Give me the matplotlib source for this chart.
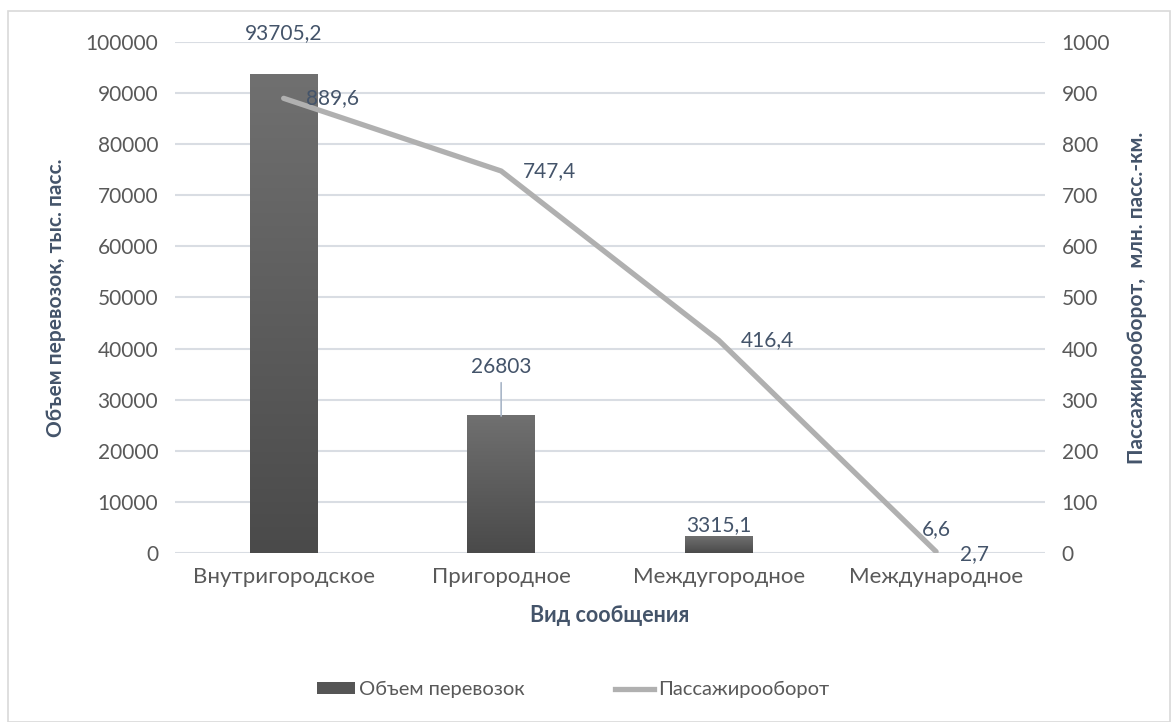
import numpy as np
import matplotlib.pyplot as plt
from matplotlib import rcParams
from matplotlib.colors import LinearSegmentedColormap
from matplotlib.lines import Line2D
from matplotlib.patches import Patch, Rectangle

# chart data
categories = ['Внутригородское', 'Пригородное', 'Междугородное', 'Международное']
volume = [93705.2, 26803, 3315.1, 6.6]        # тыс. пасс.
turnover = [889.6, 747.4, 416.4, 2.7]         # млн. пасс.-км.
volume_labels = ['93705,2', '26803', '3315,1', '6,6']
turnover_labels = ['889,6', '747,4', '416,4', '2,7']

rcParams['font.family'] = ['Lato', 'DejaVu Sans']
rcParams['font.size'] = 15

text_col = '#595959'
label_col = '#44546A'
grid_col = '#d9dde3'

fig = plt.figure(figsize=(11.74, 7.22), dpi=100)
ax = fig.add_axes([0.149, 0.234, 0.741, 0.708])
ax2 = ax.twinx()

x = np.arange(len(categories))
bars = ax.bar(x, volume, width=0.31, color='#5a5a5a', zorder=2)

# vertical gradient inside each bar (skip bars too thin to see)
grad = np.linspace(0, 1, 256).reshape(-1, 1)
cmap = LinearSegmentedColormap.from_list('g', ['#4a4a4a', '#707070'])
for b in bars:
    x0, w, h = b.get_x(), b.get_width(), b.get_height()
    b.set_alpha(0)
    if h < 500:
        continue
    ax.imshow(grad, extent=[x0, x0 + w, 0, h], aspect='auto', origin='lower',
              cmap=cmap, zorder=2.1)

ax.set_xlim(-0.5, 3.5)
ax.set_ylim(0, 100000)
ax.set_yticks(np.arange(0, 100001, 10000))
ax.grid(axis='y', color=grid_col, lw=1.5, zorder=0)
ax.set_axisbelow(True)
ax.set_xticks(x)
ax.set_xticklabels(categories, fontsize=16)
for s in ax.spines.values():
    s.set_visible(False)
for s in ax2.spines.values():
    s.set_visible(False)
ax.tick_params(axis='both', length=0, colors=text_col, pad=12)
ax.tick_params(axis='y', labelsize=15)
ax.tick_params(axis='x', pad=10)

ax.set_xlabel('Вид сообщения', fontweight='bold', color=label_col, fontsize=15.5, labelpad=13)
ax.set_ylabel('Объем перевозок, тыс. пасс.', fontweight='bold', color=label_col, fontsize=15, labelpad=14)

# bar labels
offsets = [(0, 22), (0, 28), (0, 1), (0, 10)]
for i, (v, lab) in enumerate(zip(volume, volume_labels)):
    if i == 1:
        ax.annotate(lab, (x[i], v), xytext=offsets[i], textcoords='offset points',
                    ha='center', va='bottom', color=label_col, fontsize=15,
                    arrowprops=dict(arrowstyle='-', color='#a9b6c8', lw=1.2,
                                    shrinkA=2, shrinkB=0), zorder=5)
    else:
        ax.annotate(lab, (x[i], v), xytext=offsets[i], textcoords='offset points',
                    ha='center', va='bottom', color=label_col, fontsize=15, zorder=5)

# line on secondary axis
ax2.plot(x, turnover, color='#b0b0b0', lw=3.8, solid_capstyle='round', zorder=3)
ax2.set_ylim(0, 1000)
ax2.set_yticks(np.arange(0, 1001, 100))
ax2.tick_params(axis='y', length=0, colors=text_col, labelsize=15, pad=12)
ax2.set_ylabel('Пассажирооборот,  млн. пасс.-км.', fontweight='bold', color=label_col,
               fontsize=15, labelpad=12)
for i, (v, lab) in enumerate(zip(turnover, turnover_labels)):
    dx = 16 if i < 3 else 17
    ax2.annotate(lab, (x[i], v), xytext=(dx, 0 if i < 3 else -2), textcoords='offset points',
                 ha='left', va='center', color=label_col, fontsize=15)

handles = [Patch(facecolor='#555555', edgecolor='none', label='Объем перевозок'),
           Line2D([0], [0], color='#b0b0b0', lw=3.8, label='Пассажирооборот')]
leg = fig.legend(handles=handles, loc='center', bbox_to_anchor=(0.488, 0.045), ncol=2,
                 frameon=False, columnspacing=4.5, handlelength=1.9, handleheight=0.5,
                 handletextpad=0.2, prop={'size': 14.5})
for t in leg.get_texts():
    t.set_color(text_col)

# outer chart frame
fig.patches.append(Rectangle((0.007, 0.0), 0.99, 0.985, transform=fig.transFigure,
                             fill=False, edgecolor='#d9d9d9', lw=1.2))

plt.savefig('out.png', dpi=100)
